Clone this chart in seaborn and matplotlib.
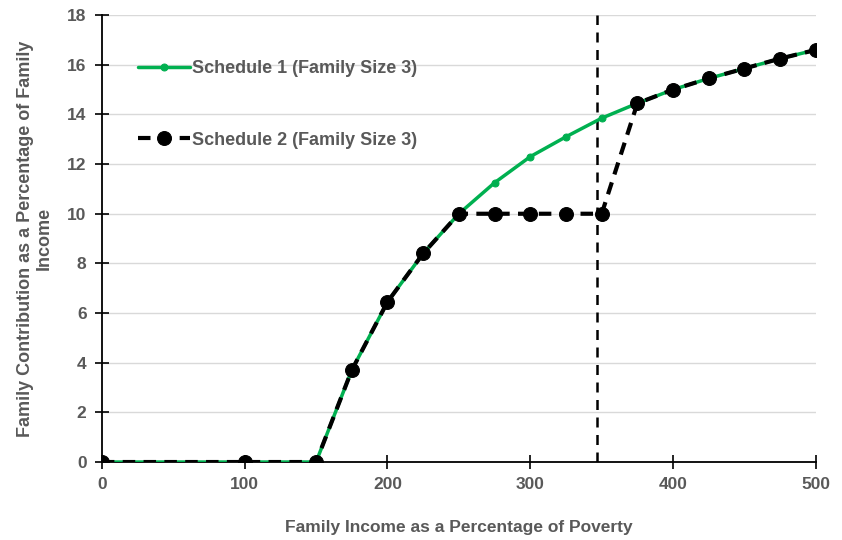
import numpy as np
import pandas as pd
import matplotlib
matplotlib.use("Agg")
import matplotlib.pyplot as plt
import seaborn as sns

# values
income_pct = [0, 100, 150, 175, 200, 225, 250, 275, 300, 325, 350, 375, 400, 425, 450, 475, 500]
schedule1 = [0, 0, 0, 3.7, 6.45, 8.4, 10.0, 11.25, 12.3, 13.1, 13.85, 14.45, 15.0, 15.45, 15.85, 16.25, 16.6]
schedule2 = [0, 0, 0, 3.7, 6.45, 8.4, 10.0, 10.0, 10.0, 10.0, 10.0, 14.45, 15.0, 15.45, 15.85, 16.25, 16.6]
cutoff = 347
label1 = "Schedule 1 (Family Size 3)"
label2 = "Schedule 2 (Family Size 3)"

df = pd.DataFrame({"income": income_pct, "s1": schedule1, "s2": schedule2})

sns.set_style("white")
plt.rcParams["font.family"] = ["Liberation Sans", "DejaVu Sans"]
gray = "#595959"
green = "#00B050"

fig = plt.figure(figsize=(8.42, 5.4), dpi=100)
ax = fig.add_axes([0.121, 0.1444, 0.848, 0.8276])

ax.yaxis.grid(True, color="#d9d9d9", linewidth=1)
ax.set_axisbelow(True)

sns.lineplot(data=df, x="income", y="s1", ax=ax, color=green, linewidth=2.5,
             marker="o", markersize=5, markeredgecolor=green, label=label1, zorder=3)
sns.lineplot(data=df, x="income", y="s2", ax=ax, color="black", linewidth=3,
             linestyle=(0, (3, 2)), marker="o", markersize=10, markeredgecolor="black",
             label=label2, zorder=4)

ax.axvline(cutoff, color="black", linestyle=(0, (4, 3)), linewidth=1.8, zorder=2)

ax.set_xlim(0, 500)
ax.set_ylim(0, 18)
ax.set_xticks(range(0, 501, 100))
ax.set_yticks(range(0, 19, 2))

for s in ["top", "right"]:
    ax.spines[s].set_visible(False)
for s in ["left", "bottom"]:
    ax.spines[s].set_color("black")
    ax.spines[s].set_linewidth(1.3)
ax.tick_params(axis="both", direction="inout", length=10, width=1.2, colors="black",
               labelcolor=gray, labelsize=12.5, pad=6)
for lbl in ax.get_xticklabels() + ax.get_yticklabels():
    lbl.set_fontweight("bold")
ax.xaxis.set_ticks_position("bottom")
ax.yaxis.set_ticks_position("left")

ax.set_xlabel("Family Income as a Percentage of Poverty", fontsize=12.5, fontweight="bold",
              color=gray, labelpad=20)
ax.set_ylabel("Family Contribution as a Percentage of Family\nIncome", fontsize=13,
              fontweight="bold", color=gray, labelpad=10, linespacing=1.2)

leg = ax.legend(loc="center left", bbox_to_anchor=(0.04, 0.80), frameon=False,
                fontsize=13, labelspacing=3.0, handlelength=2.9, handletextpad=0.1,
                borderaxespad=0)
for t in leg.get_texts():
    t.set_color(gray)
    t.set_fontweight("bold")

fig.savefig("out.png", dpi=100)
